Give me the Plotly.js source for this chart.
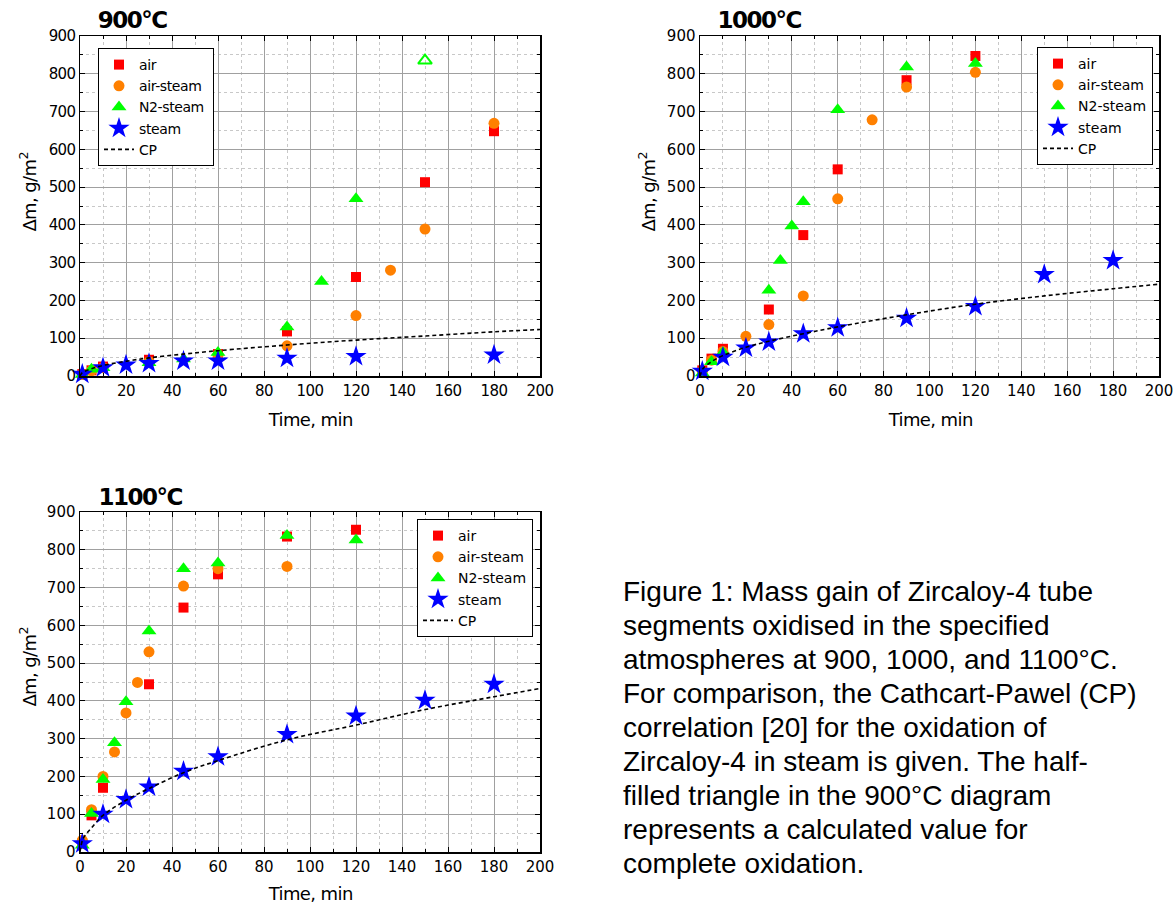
<!DOCTYPE html>
<html>
<head>
<meta charset="utf-8">
<script src="https://cdn.plot.ly/plotly-3.0.1.min.js"></script>
<style>
html,body{margin:0;padding:0;background:#fff;}
#chart{width:1173px;height:906px;}
#chart .xtick text, #chart .ytick text {letter-spacing:-0.6px;}
#chart .legendtext {letter-spacing:-0.4px;}
#chart g.annotation[data-index="0"] text,
#chart g.annotation[data-index="3"] text,
#chart g.annotation[data-index="6"] text {letter-spacing:-1.5px;}
#chart g.annotation[data-index="1"] text,
#chart g.annotation[data-index="4"] text,
#chart g.annotation[data-index="7"] text,
#chart g.annotation[data-index="2"] text,
#chart g.annotation[data-index="5"] text,
#chart g.annotation[data-index="8"] text {letter-spacing:-0.6px;}
</style>
</head>
<body>
<div id="chart"></div>
<script>
// ---------- 900 °C ----------
const t900_air = [1, 5, 10, 30, 60, 90, 120, 150, 180];
const m900_air = [5, 15, 25, 43, 58, 118, 262, 513, 648];
const t900_airsteam = [1, 5, 10, 30, 60, 90, 120, 135, 150, 180];
const m900_airsteam = [4, 14, 22, 38, 55, 80, 160, 280, 389, 669];
const t900_n2 = [1, 5, 10, 30, 45, 60, 90, 105, 120];
const m900_n2 = [4, 18, 22, 35, 45, 62, 130, 250, 469];
const t900_n2calc = [150];
const m900_n2calc = [835];
const t900_steam = [1, 10, 20, 30, 45, 60, 90, 120, 180];
const m900_steam = [5, 22, 29, 33, 40, 40, 47, 52, 56];
const t900_cp = [0, 1, 2, 5, 10, 20, 30, 45, 60, 90, 120, 150, 180, 200];
const m900_cp = [0, 9, 12, 19, 28, 39, 48, 58, 67, 82, 95, 106, 117, 123];

// ---------- 1000 °C ----------
const t1000_air = [1, 5, 10, 30, 45, 60, 90, 120];
const m1000_air = [15, 46, 72, 176, 373, 547, 783, 847];
const t1000_airsteam = [1, 5, 10, 20, 30, 45, 60, 75, 90, 120];
const m1000_airsteam = [12, 42, 65, 105, 136, 212, 469, 678, 765, 804];
const t1000_n2 = [1, 5, 10, 30, 35, 40, 45, 60, 90, 120];
const m1000_n2 = [8, 38, 62, 227, 306, 397, 461, 705, 818, 827];
const t1000_steam = [1, 10, 20, 30, 45, 60, 90, 120, 150, 180];
const m1000_steam = [13, 50, 74, 90, 112, 128, 153, 184, 269, 306];
const t1000_cp = [0, 1, 2, 5, 10, 20, 30, 45, 60, 90, 120, 150, 180, 200];
const m1000_cp = [0, 17, 24, 38, 54, 76, 92, 112, 130, 162, 190, 212, 231, 243];

// ---------- 1100 °C ----------
const t1100_air = [1, 5, 10, 30, 45, 60, 90, 120];
const m1100_air = [22, 97, 170, 444, 647, 735, 835, 853];
const t1100_airsteam = [1, 5, 10, 15, 20, 25, 30, 45, 60, 90];
const m1100_airsteam = [31, 112, 200, 265, 368, 449, 530, 704, 750, 756];
const t1100_n2 = [1, 5, 10, 15, 20, 30, 45, 60, 90, 120];
const m1100_n2 = [18, 102, 192, 289, 398, 585, 750, 765, 838, 826];
const t1100_steam = [1, 10, 20, 30, 45, 60, 90, 120, 150, 180];
const m1100_steam = [22, 100, 139, 172, 214, 252, 311, 360, 402, 444];
const t1100_cp = [0, 1, 2, 5, 10, 20, 30, 45, 60, 90, 120, 150, 180, 200];
const m1100_cp = [0, 30, 42, 64, 97, 137, 168, 210, 242, 297, 336, 377, 411, 433];

// ---------- text ----------
const seriesNames = ['air', 'air-steam', 'N2-steam', 'steam', 'CP'];
const panelTitles = ['900°C', '1000°C', '1100°C'];
const xTitle = 'Time, min';
const yTitle = 'Δm, g/m<sup>2</sup>';
const captionLines = [
  'Figure 1: Mass gain of Zircaloy-4 tube',
  'segments oxidised in the specified',
  'atmospheres at 900, 1000, and 1100°C.',
  'For comparison, the Cathcart-Pawel (CP)',
  'correlation [20] for the oxidation of',
  'Zircaloy-4 in steam is given. The half-',
  'filled triangle in the 900°C diagram',
  'represents a calculated value for',
  'complete oxidation.'
];

// ---------- layout helpers ----------
const W = 1173, H = 906;
const px = v => v / W;
const py = v => 1 - v / H;
const NARROW = '"DejaVu Sans", sans-serif';
const ARIAL = '"Liberation Sans", Arial, sans-serif';

const panels = [
  {x0: 80, x1: 540, y0: 36, y1: 376, leg: [98, 48], title: [132, 20], xt: [310, 419], yt: [28, 192]},
  {x0: 700, x1: 1159, y0: 36, y1: 376, leg: [1037, 47], title: [759, 20], xt: [930, 419], yt: [647, 192]},
  {x0: 80, x1: 540, y0: 512, y1: 852, leg: [417, 519], title: [140, 497], xt: [310, 893], yt: [28, 667]}
];

const colors = {air: '#ff0000', airsteam: '#ff8000', n2: '#00ff00', steam: '#0000ff'};

const dataSets = [
  {air: [t900_air, m900_air], as: [t900_airsteam, m900_airsteam], n2: [t900_n2, m900_n2], st: [t900_steam, m900_steam], cp: [t900_cp, m900_cp]},
  {air: [t1000_air, m1000_air], as: [t1000_airsteam, m1000_airsteam], n2: [t1000_n2, m1000_n2], st: [t1000_steam, m1000_steam], cp: [t1000_cp, m1000_cp]},
  {air: [t1100_air, m1100_air], as: [t1100_airsteam, m1100_airsteam], n2: [t1100_n2, m1100_n2], st: [t1100_steam, m1100_steam], cp: [t1100_cp, m1100_cp]}
];

const traces = [];
const layout = {
  width: W, height: H,
  margin: {l: 0, r: 0, t: 0, b: 0},
  paper_bgcolor: '#fff', plot_bgcolor: '#fff',
  hovermode: false,
  font: {family: NARROW, color: '#000'},
  annotations: []
};

dataSets.forEach((d, i) => {
  const n = i === 0 ? '' : String(i + 1);
  const xa = 'x' + n, ya = 'y' + n;
  const legName = 'legend' + n;
  const p = panels[i];
  const common = {xaxis: xa, yaxis: ya, legend: legName, cliponaxis: false, type: 'scatter'};
  traces.push(Object.assign({}, common, {x: d.air[0], y: d.air[1], mode: 'markers', name: seriesNames[0],
    marker: {symbol: 'square', size: 10, color: colors.air}}));
  traces.push(Object.assign({}, common, {x: d.as[0], y: d.as[1], mode: 'markers', name: seriesNames[1],
    marker: {symbol: 'circle', size: 11, color: colors.airsteam}}));
  traces.push(Object.assign({}, common, {x: d.n2[0], y: d.n2[1], mode: 'markers', name: seriesNames[2],
    marker: {symbol: 'triangle-up', size: 13, color: colors.n2}}));
  if (i === 0) {
    traces.push(Object.assign({}, common, {x: t900_n2calc, y: m900_n2calc, mode: 'markers', showlegend: false,
      marker: {symbol: 'triangle-up-open', size: 12, color: colors.n2, line: {width: 2, color: colors.n2}}}));
  }
  traces.push(Object.assign({}, common, {x: d.st[0], y: d.st[1], mode: 'markers', name: seriesNames[3],
    marker: {symbol: 'star', size: 16, color: colors.steam}}));
  traces.push(Object.assign({}, common, {x: d.cp[0], y: d.cp[1], mode: 'lines', name: seriesNames[4],
    line: {color: '#000', width: 1.6, dash: '4px,3px', shape: 'spline'}}));

  const axisBase = {
    showline: true, linecolor: '#000', linewidth: 1.5, mirror: 'allticks',
    ticks: 'inside', ticklen: 5, tickcolor: '#000', tickwidth: 1,
    showgrid: true, gridcolor: '#a0a0a0', gridwidth: 1,
    zeroline: false, fixedrange: true,
    tickfont: {family: NARROW, size: 15, color: '#000'},
    ticklabeloverflow: 'allow',
    automargin: false
  };
  layout['xaxis' + n] = Object.assign({}, axisBase, {
    anchor: ya, domain: [px(p.x0), px(p.x1)], range: [0, 200], tick0: 0, dtick: 20,
    minor: {dtick: 10, showgrid: true, gridcolor: '#c8c8c8', griddash: 'dot', ticks: 'inside', ticklen: 3, tickcolor: '#000'}
  });
  layout['yaxis' + n] = Object.assign({}, axisBase, {
    anchor: xa, domain: [py(p.y1), py(p.y0)], range: [0, 900], tick0: 0, dtick: 100,
    minor: {dtick: 50, showgrid: true, gridcolor: '#c8c8c8', griddash: 'dot', ticks: 'inside', ticklen: 3, tickcolor: '#000'}
  });
  layout[legName] = {
    x: px(p.leg[0]), y: py(p.leg[1]), xanchor: 'left', yanchor: 'top', xref: 'paper', yref: 'paper',
    bgcolor: '#fff', bordercolor: '#000', borderwidth: 1,
    font: {family: NARROW, size: 14, color: '#000'}, tracegroupgap: 0, itemclick: false
  };
  layout.annotations.push({xref: 'paper', yref: 'paper', x: px(p.title[0]), y: py(p.title[1]),
    text: '<b>' + panelTitles[i] + '</b>', showarrow: false, xanchor: 'center', yanchor: 'middle',
    font: {family: NARROW, size: 23, color: '#000'}});
  layout.annotations.push({xref: 'paper', yref: 'paper', x: px(p.xt[0]), y: py(p.xt[1]),
    text: xTitle, showarrow: false, xanchor: 'center', yanchor: 'middle',
    font: {family: NARROW, size: 18, color: '#000'}});
  layout.annotations.push({xref: 'paper', yref: 'paper', x: px(p.yt[0]), y: py(p.yt[1]),
    text: yTitle, showarrow: false, xanchor: 'center', yanchor: 'middle', textangle: -90,
    font: {family: NARROW, size: 18, color: '#000'}});
});

captionLines.forEach((line, k) => {
  layout.annotations.push({xref: 'paper', yref: 'paper', x: px(621), y: py(591 + 34 * k),
    text: line, showarrow: false, xanchor: 'left', yanchor: 'middle',
    font: {family: ARIAL, size: 28, color: '#000'}});
});

Plotly.newPlot('chart', traces, layout, {displayModeBar: false, staticPlot: true});
</script>
</body>
</html>
